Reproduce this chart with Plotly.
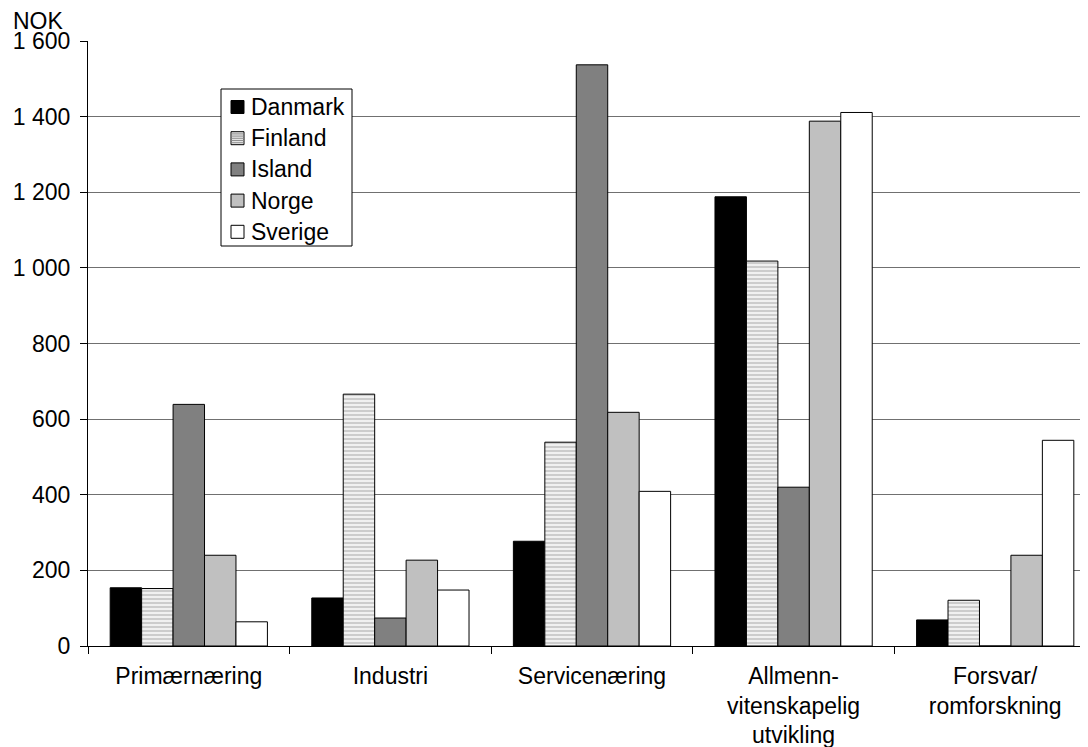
import plotly.graph_objects as go

categories = ["Primærnæring", "Industri", "Servicenæring",
              "Allmenn-<br>vitenskapelig<br>utvikling", "Forsvar/<br>romforskning"]
series_names = ["Danmark", "Finland", "Island", "Norge", "Sverige"]
danmark = [154, 127, 277, 1188, 69]
finland = [152, 666, 539, 1018, 121]
island = [639, 74, 1537, 420, 0]
norge = [240, 227, 618, 1388, 240]
sverige = [64, 148, 409, 1411, 544]
y_ticks = [0, 200, 400, 600, 800, 1000, 1200, 1400, 1600]
y_ticklabels = ["0", "200", "400", "600", "800", "1 000", "1 200", "1 400", "1 600"]

FONT = "Liberation Sans, Arial, sans-serif"
FS = 23
colors = ["black", "#e4e4e4", "#808080", "#c0c0c0", "white"]

fig = go.Figure()
line = dict(color="black", width=1)
fig.add_trace(go.Bar(name="Danmark", x=categories, y=danmark,
                     marker=dict(color=colors[0], line=line)))
fig.add_trace(go.Bar(name="Finland", x=categories, y=finland,
                     marker=dict(color="white", line=line,
                                 pattern=dict(shape="-", fgcolor="#a8a8a8", bgcolor="#f0f0f0",
                                              size=4, solidity=0.5))))
fig.add_trace(go.Bar(name="Island", x=categories, y=island,
                     marker=dict(color=colors[2], line=line)))
fig.add_trace(go.Bar(name="Norge", x=categories, y=norge,
                     marker=dict(color=colors[3], line=line)))
fig.add_trace(go.Bar(name="Sverige", x=categories, y=sverige,
                     marker=dict(color=colors[4], line=line)))

# pixel -> paper helpers (plot area: x 88..1096, y 41..646 on page)
PL, PW, PT, PH = 88, 1008, 41, 605
def px(x):
    return (x - PL) / PW
def py(y):
    return (PT + PH - y) / PH

shapes = []
annotations = []
# legend box
shapes.append(dict(type="rect", xref="paper", yref="paper",
                   x0=px(221), x1=px(352), y0=py(89), y1=py(246),
                   line=dict(color="black", width=1), fillcolor="white", layer="above"))
for i, name in enumerate(series_names):
    cy = 107 + i * 31.2
    shapes.append(dict(type="rect", xref="paper", yref="paper",
                       x0=px(231), x1=px(244), y0=py(cy - 6.5), y1=py(cy + 6.5),
                       line=dict(color="black", width=1), fillcolor=colors[i], layer="above"))
    if name == "Finland":
        for k in range(1, 6):
            yy = cy - 6.5 + k * 2.2
            shapes.append(dict(type="line", xref="paper", yref="paper",
                               x0=px(231.5), x1=px(243.5), y0=py(yy), y1=py(yy),
                               line=dict(color="#909090", width=1), layer="above"))
    annotations.append(dict(text=name, xref="paper", yref="paper", x=px(249), y=py(cy),
                            xanchor="left", yanchor="middle", showarrow=False,
                            font=dict(size=FS)))
annotations.append(dict(text="NOK", xref="paper", yref="paper", x=px(11), y=1.0,
                        xanchor="left", yanchor="bottom", showarrow=False,
                        font=dict(size=FS), yshift=5))

fig.update_layout(
    width=1088, height=747,
    margin=dict(l=80, r=0, t=33, b=109),
    barmode="group", bargap=0.22, bargroupgap=0,
    plot_bgcolor="white", paper_bgcolor="white",
    font=dict(family=FONT, size=FS, color="black"),
    showlegend=False,
    xaxis=dict(range=[-0.5, 4.5], showline=True, linecolor="black", linewidth=1,
               ticks="outside", tickson="boundaries", ticklen=7, tickcolor="black",
               showgrid=False, ticklabelstandoff=9),
    yaxis=dict(range=[0, 1600], tickvals=y_ticks, ticktext=y_ticklabels,
               showline=True, linecolor="black", linewidth=1,
               ticks="outside", ticklen=7, tickcolor="black", ticklabelstandoff=5,
               showgrid=True, gridcolor="#707070", gridwidth=1, zeroline=False),
    shapes=shapes,
    annotations=annotations,
)
fig.write_html("out.html")
